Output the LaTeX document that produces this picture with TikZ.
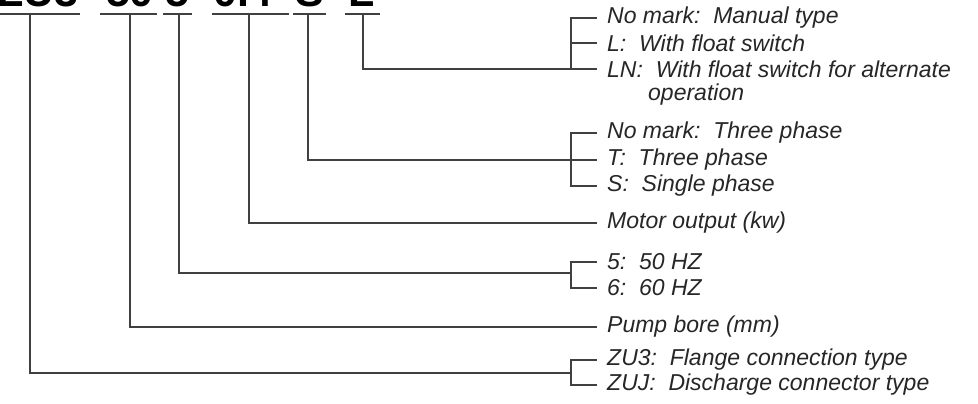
\documentclass[tikz,border=0pt]{standalone}
\usepackage{fontspec}
\setmainfont{Liberation Sans}
\begin{document}
\begin{tikzpicture}[x=1pt, y=-1pt,
    line/.style={line width=1.3pt, black!75},
    code/.style={anchor=base, inner sep=0pt, font=\fontsize{43}{43}\selectfont\bfseries},
    item/.style={anchor=west, inner xsep=10pt, inner ysep=1pt, text=black!85,
                 font=\fontsize{23}{26}\selectfont\itshape}]

    % 1. Khung hình (phần trên của mã bị cắt)
    \useasboundingbox (0,0) rectangle (978,404);
    \clip (0,0) rectangle (978,404);

    % 2. Mã sản phẩm và các gạch dưới
    \node[code] (t1) at (38,7) {ZU3};
    \node[code] (t2) at (130,7) {50};
    \node[code] (t3) at (177,7) {5};
    \node[code] (t4) at (243,7) {0.4};
    \node[code] (t5) at (310,7) {S};
    \node[code] (t6) at (362,7) {L};
    \foreach \a/\b/\m [count=\i] in {0/80/30, 100/157/130, 163/192/179,
                                     212/289/249, 293/326/308, 345/380/363} {
        \draw[line] (\a,14) -- (\b,14);
        \coordinate (u\i) at (\m,14);
    }

    % 3. Chú thích bên phải
    \node[item] (l1) at (597,18) {No mark:\ \ Manual type};
    \node[item] (l2) at (597,43) {L:\ \ With float switch};
    \node[item] (l3) at (597,69) {LN:\ \ With float switch for alternate};
    \node[item] (l4) at (638,95) {operation};
    \node[item] (p1) at (597,133) {No mark:\ \ Three phase};
    \node[item] (p2) at (597,160) {T:\ \ Three phase};
    \node[item] (p3) at (597,186) {S:\ \ Single phase};
    \node[item] (mo) at (597,223) {Motor output (kw)};
    \node[item] (f1) at (597,262) {5:\ \ 50 HZ};
    \node[item] (f2) at (597,288) {6:\ \ 60 HZ};
    \node[item] (pb) at (597,327) {Pump bore (mm)};
    \node[item] (z1) at (597,360) {ZU3:\ \ Flange connection type};
    \node[item] (z2) at (597,385) {ZUJ:\ \ Discharge connector type};

    % 4. Các điểm nối của ngoặc
    \coordinate (b1) at (571,69);
    \coordinate (b2) at (571,160);
    \coordinate (b3) at (571,273);
    \coordinate (b5) at (571,373);

    % 5. Đường dẫn từ mã tới chú thích
    \draw[line] (u6) |- (l3.west);
    \draw[line] (l1.west) -| (b1);
    \draw[line] (l2.west) -- (l2.west -| b1);
    \draw[line] (u5) |- (p2.west);
    \draw[line] (p1.west) -| (b2) |- (p3.west);
    \draw[line] (u4) |- (mo.west);
    \draw[line] (u3) |- (b3);
    \draw[line] (f1.west) -| (b3) |- (f2.west);
    \draw[line] (u2) |- (pb.west);
    \draw[line] (u1) |- (b5);
    \draw[line] (z1.west) -| (b5) |- (z2.west);

\end{tikzpicture}
\end{document}
